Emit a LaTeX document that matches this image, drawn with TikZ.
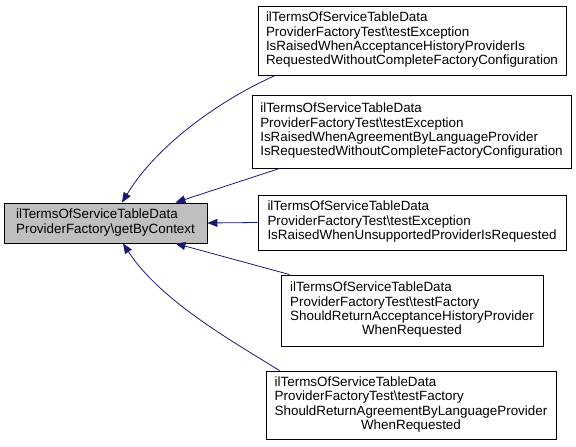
\documentclass[tikz,border=0pt]{standalone}
\usepackage{fontspec}
\setmainfont{Liberation Sans}
\usetikzlibrary{arrows.meta,calc}
\definecolor{edgeblue}{HTML}{191970}
\definecolor{nodegray}{HTML}{BFBFBF}
\begin{document}
\begin{tikzpicture}[x=1pt,y=-1pt,
  box/.style={draw=black, line width=0.9pt, inner sep=0pt, fill=white,
    font=\fontsize{13.4}{14.4}\selectfont},
  edge/.style={draw=edgeblue, line width=0.8pt, -{Triangle[length=10pt,width=8pt]}}]
\useasboundingbox (0,0) rectangle (576,447);
\node[box, fill=nodegray, minimum width=203, minimum height=40] (L) at (105.5,223)
  {\begin{tabular}{@{}l@{}}ilTermsOfServiceTableData\\ProviderFactory\textbackslash getByContext\end{tabular}};
\node[box, minimum width=308, minimum height=69] (b1) at (412,40.5)
  {\begin{tabular}{@{}l@{}}ilTermsOfServiceTableData\\ProviderFactoryTest\textbackslash testException\\IsRaisedWhenAcceptanceHistoryProviderIs\\RequestedWithoutCompleteFactoryConfiguration\end{tabular}};
\node[box, minimum width=319, minimum height=73] (b2) at (411.5,131.5)
  {\begin{tabular}{@{}l@{}}ilTermsOfServiceTableData\\ProviderFactoryTest\textbackslash testException\\IsRaisedWhenAgreementByLanguageProvider\\IsRequestedWithoutCompleteFactoryConfiguration\end{tabular}};
\node[box, minimum width=308, minimum height=55] (b3) at (412,222.5)
  {\begin{tabular}{@{}l@{}}ilTermsOfServiceTableData\\ProviderFactoryTest\textbackslash testException\\IsRaisedWhenUnsupportedProviderIsRequested\end{tabular}};
\node[box, minimum width=262, minimum height=71] (b4) at (412,310.5)
  {\begin{tabular}{@{}l@{}}ilTermsOfServiceTableData\\ProviderFactoryTest\textbackslash testFactory\\ShouldReturnAcceptanceHistoryProvider\\\multicolumn{1}{@{}c@{}}{WhenRequested}\end{tabular}};
\node[box, minimum width=290, minimum height=68] (b5) at (411,405)
  {\begin{tabular}{@{}l@{}}ilTermsOfServiceTableData\\ProviderFactoryTest\textbackslash testFactory\\ShouldReturnAgreementByLanguageProvider\\\multicolumn{1}{@{}c@{}}{WhenRequested}\end{tabular}};
\draw[edge] ($(b1.south west)+(18,0)$) .. controls (230,95) and (160,140) .. ($(L.north)+(16.5,0)$);
\draw[edge] ($(b2.south west)+(28,0)$) -- ($(L.north east)+(-32,0)$);
\draw[edge] (b3.west) -- (L.east);
\draw[edge] ($(b4.north west)+(9,0)$) -- ($(L.south east)+(-32,0)$);
\draw[edge] ($(b5.north west)+(14,0)$) .. controls (230,340) and (160,300) .. ($(L.south)+(17.5,0)$);
\end{tikzpicture}
\end{document}
